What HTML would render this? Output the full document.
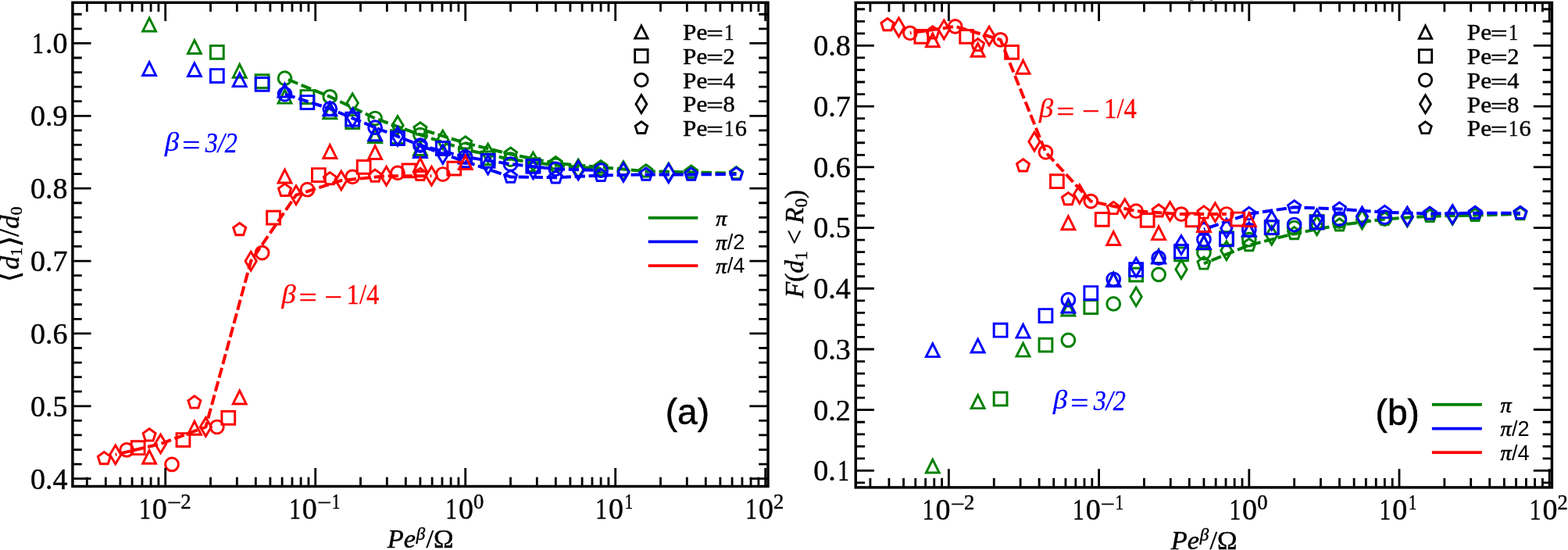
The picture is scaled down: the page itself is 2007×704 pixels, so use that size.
<!DOCTYPE html>
<html lang="en"><head><meta charset="utf-8"><title>Figure</title>
<style>html,body{margin:0;padding:0;background:#fff}svg{display:block}</style>
</head><body>
<svg width="2007" height="704" viewBox="0 0 2007 704">
<rect width="2007" height="704" fill="#fff"/>
<path d="M191.12 23.10 L182.72 39.90 L199.52 39.90 Z" fill="none" stroke="#008000" stroke-width="2.95" stroke-linejoin="miter"/>
<path d="M248.91 51.60 L240.51 68.40 L257.31 68.40 Z" fill="none" stroke="#008000" stroke-width="2.95" stroke-linejoin="miter"/>
<path d="M306.71 82.40 L298.31 99.20 L315.11 99.20 Z" fill="none" stroke="#008000" stroke-width="2.95" stroke-linejoin="miter"/>
<path d="M364.51 115.30 L356.11 132.10 L372.91 132.10 Z" fill="none" stroke="#008000" stroke-width="2.95" stroke-linejoin="miter"/>
<path d="M422.31 134.90 L413.91 151.70 L430.71 151.70 Z" fill="none" stroke="#008000" stroke-width="2.95" stroke-linejoin="miter"/>
<path d="M480.10 165.60 L471.70 182.40 L488.50 182.40 Z" fill="none" stroke="#008000" stroke-width="2.95" stroke-linejoin="miter"/>
<path d="M537.90 181.60 L529.50 198.40 L546.30 198.40 Z" fill="none" stroke="#008000" stroke-width="2.95" stroke-linejoin="miter"/>
<path d="M595.70 191.60 L587.30 208.40 L604.10 208.40 Z" fill="none" stroke="#008000" stroke-width="2.95" stroke-linejoin="miter"/>
<path d="M269.41 58.40 L286.21 58.40 L286.21 75.20 L269.41 75.20 Z" fill="none" stroke="#008000" stroke-width="2.95" stroke-linejoin="miter"/>
<path d="M327.21 95.70 L344.01 95.70 L344.01 112.50 L327.21 112.50 Z" fill="none" stroke="#008000" stroke-width="2.95" stroke-linejoin="miter"/>
<path d="M385.01 115.60 L401.81 115.60 L401.81 132.40 L385.01 132.40 Z" fill="none" stroke="#008000" stroke-width="2.95" stroke-linejoin="miter"/>
<path d="M442.81 147.60 L459.61 147.60 L459.61 164.40 L442.81 164.40 Z" fill="none" stroke="#008000" stroke-width="2.95" stroke-linejoin="miter"/>
<path d="M500.60 166.60 L517.40 166.60 L517.40 183.40 L500.60 183.40 Z" fill="none" stroke="#008000" stroke-width="2.95" stroke-linejoin="miter"/>
<path d="M558.40 181.60 L575.20 181.60 L575.20 198.40 L558.40 198.40 Z" fill="none" stroke="#008000" stroke-width="2.95" stroke-linejoin="miter"/>
<path d="M616.20 194.00 L633.00 194.00 L633.00 210.80 L616.20 210.80 Z" fill="none" stroke="#008000" stroke-width="2.95" stroke-linejoin="miter"/>
<path d="M674.00 202.60 L690.80 202.60 L690.80 219.40 L674.00 219.40 Z" fill="none" stroke="#008000" stroke-width="2.95" stroke-linejoin="miter"/>
<polyline points="364.51,100.15 422.31,123.80 480.10,151.50 537.90,172.50 595.70,191.50 653.50,204.00 711.30,211.50 769.09,216.00" fill="none" stroke="#008000" stroke-width="4.0" stroke-dasharray="13.3 4.7" stroke-dashoffset="13.20" stroke-linejoin="round"/>
<circle cx="364.51" cy="100.15" r="8.40" fill="none" stroke="#008000" stroke-width="2.95" stroke-linejoin="miter"/>
<circle cx="422.31" cy="123.80" r="8.40" fill="none" stroke="#008000" stroke-width="2.95" stroke-linejoin="miter"/>
<circle cx="480.10" cy="151.50" r="8.40" fill="none" stroke="#008000" stroke-width="2.95" stroke-linejoin="miter"/>
<circle cx="537.90" cy="172.50" r="8.40" fill="none" stroke="#008000" stroke-width="2.95" stroke-linejoin="miter"/>
<circle cx="595.70" cy="191.50" r="8.40" fill="none" stroke="#008000" stroke-width="2.95" stroke-linejoin="miter"/>
<circle cx="653.50" cy="204.00" r="8.40" fill="none" stroke="#008000" stroke-width="2.95" stroke-linejoin="miter"/>
<circle cx="711.30" cy="211.50" r="8.40" fill="none" stroke="#008000" stroke-width="2.95" stroke-linejoin="miter"/>
<circle cx="769.09" cy="216.00" r="8.40" fill="none" stroke="#008000" stroke-width="2.95" stroke-linejoin="miter"/>
<path d="M451.21 119.92 L458.33 131.80 L451.21 143.68 L444.08 131.80 Z" fill="none" stroke="#008000" stroke-width="2.95" stroke-linejoin="miter"/>
<path d="M509.00 148.72 L516.13 160.60 L509.00 172.48 L501.88 160.60 Z" fill="none" stroke="#008000" stroke-width="2.95" stroke-linejoin="miter"/>
<path d="M566.80 167.22 L573.93 179.10 L566.80 190.98 L559.67 179.10 Z" fill="none" stroke="#008000" stroke-width="2.95" stroke-linejoin="miter"/>
<path d="M624.60 184.22 L631.73 196.10 L624.60 207.98 L617.47 196.10 Z" fill="none" stroke="#008000" stroke-width="2.95" stroke-linejoin="miter"/>
<path d="M682.40 195.22 L689.52 207.10 L682.40 218.98 L675.27 207.10 Z" fill="none" stroke="#008000" stroke-width="2.95" stroke-linejoin="miter"/>
<path d="M740.19 204.22 L747.32 216.10 L740.19 227.98 L733.07 216.10 Z" fill="none" stroke="#008000" stroke-width="2.95" stroke-linejoin="miter"/>
<path d="M797.99 206.72 L805.12 218.60 L797.99 230.48 L790.86 218.60 Z" fill="none" stroke="#008000" stroke-width="2.95" stroke-linejoin="miter"/>
<path d="M855.79 209.12 L862.92 221.00 L855.79 232.88 L848.66 221.00 Z" fill="none" stroke="#008000" stroke-width="2.95" stroke-linejoin="miter"/>
<polyline points="537.90,165.10 595.70,183.10 653.50,197.40 711.30,209.00 769.09,214.00 826.89,219.20 884.69,220.40 942.49,222.00" fill="none" stroke="#008000" stroke-width="4.0" stroke-dasharray="13.3 4.7" stroke-dashoffset="12.26" stroke-linejoin="round"/>
<path d="M537.90 156.70 L545.89 162.50 L542.84 171.90 L532.96 171.90 L529.91 162.50 Z" fill="none" stroke="#008000" stroke-width="2.95" stroke-linejoin="miter"/>
<path d="M595.70 174.70 L603.69 180.50 L600.64 189.90 L590.76 189.90 L587.71 180.50 Z" fill="none" stroke="#008000" stroke-width="2.95" stroke-linejoin="miter"/>
<path d="M653.50 189.00 L661.49 194.80 L658.44 204.20 L648.56 204.20 L645.51 194.80 Z" fill="none" stroke="#008000" stroke-width="2.95" stroke-linejoin="miter"/>
<path d="M711.30 200.60 L719.28 206.40 L716.23 215.80 L706.36 215.80 L703.31 206.40 Z" fill="none" stroke="#008000" stroke-width="2.95" stroke-linejoin="miter"/>
<path d="M769.09 205.60 L777.08 211.40 L774.03 220.80 L764.16 220.80 L761.10 211.40 Z" fill="none" stroke="#008000" stroke-width="2.95" stroke-linejoin="miter"/>
<path d="M826.89 210.80 L834.88 216.60 L831.83 226.00 L821.95 226.00 L818.90 216.60 Z" fill="none" stroke="#008000" stroke-width="2.95" stroke-linejoin="miter"/>
<path d="M884.69 212.00 L892.68 217.80 L889.63 227.20 L879.75 227.20 L876.70 217.80 Z" fill="none" stroke="#008000" stroke-width="2.95" stroke-linejoin="miter"/>
<path d="M942.49 213.60 L950.48 219.40 L947.42 228.80 L937.55 228.80 L934.50 219.40 Z" fill="none" stroke="#008000" stroke-width="2.95" stroke-linejoin="miter"/>
<path d="M191.12 79.60 L182.72 96.40 L199.52 96.40 Z" fill="none" stroke="#0000ff" stroke-width="2.95" stroke-linejoin="miter"/>
<path d="M248.91 80.70 L240.51 97.50 L257.31 97.50 Z" fill="none" stroke="#0000ff" stroke-width="2.95" stroke-linejoin="miter"/>
<path d="M306.71 93.80 L298.31 110.60 L315.11 110.60 Z" fill="none" stroke="#0000ff" stroke-width="2.95" stroke-linejoin="miter"/>
<path d="M364.51 107.30 L356.11 124.10 L372.91 124.10 Z" fill="none" stroke="#0000ff" stroke-width="2.95" stroke-linejoin="miter"/>
<path d="M422.31 131.00 L413.91 147.80 L430.71 147.80 Z" fill="none" stroke="#0000ff" stroke-width="2.95" stroke-linejoin="miter"/>
<path d="M480.10 162.90 L471.70 179.70 L488.50 179.70 Z" fill="none" stroke="#0000ff" stroke-width="2.95" stroke-linejoin="miter"/>
<path d="M537.90 184.60 L529.50 201.40 L546.30 201.40 Z" fill="none" stroke="#0000ff" stroke-width="2.95" stroke-linejoin="miter"/>
<path d="M595.70 192.10 L587.30 208.90 L604.10 208.90 Z" fill="none" stroke="#0000ff" stroke-width="2.95" stroke-linejoin="miter"/>
<path d="M269.41 88.60 L286.21 88.60 L286.21 105.40 L269.41 105.40 Z" fill="none" stroke="#0000ff" stroke-width="2.95" stroke-linejoin="miter"/>
<path d="M327.21 99.40 L344.01 99.40 L344.01 116.20 L327.21 116.20 Z" fill="none" stroke="#0000ff" stroke-width="2.95" stroke-linejoin="miter"/>
<path d="M385.01 122.60 L401.81 122.60 L401.81 139.40 L385.01 139.40 Z" fill="none" stroke="#0000ff" stroke-width="2.95" stroke-linejoin="miter"/>
<path d="M442.81 144.20 L459.61 144.20 L459.61 161.00 L442.81 161.00 Z" fill="none" stroke="#0000ff" stroke-width="2.95" stroke-linejoin="miter"/>
<path d="M500.60 168.80 L517.40 168.80 L517.40 185.60 L500.60 185.60 Z" fill="none" stroke="#0000ff" stroke-width="2.95" stroke-linejoin="miter"/>
<path d="M558.40 181.40 L575.20 181.40 L575.20 198.20 L558.40 198.20 Z" fill="none" stroke="#0000ff" stroke-width="2.95" stroke-linejoin="miter"/>
<path d="M616.20 197.40 L633.00 197.40 L633.00 214.20 L616.20 214.20 Z" fill="none" stroke="#0000ff" stroke-width="2.95" stroke-linejoin="miter"/>
<path d="M674.00 204.40 L690.80 204.40 L690.80 221.20 L674.00 221.20 Z" fill="none" stroke="#0000ff" stroke-width="2.95" stroke-linejoin="miter"/>
<polyline points="364.51,120.50 422.31,139.20 480.10,163.20 537.90,186.00 595.70,201.00 653.50,210.00 711.30,216.30 769.09,218.20" fill="none" stroke="#0000ff" stroke-width="4.0" stroke-dasharray="13.3 4.7" stroke-dashoffset="17.70" stroke-linejoin="round"/>
<circle cx="364.51" cy="120.50" r="8.40" fill="none" stroke="#0000ff" stroke-width="2.95" stroke-linejoin="miter"/>
<circle cx="422.31" cy="139.20" r="8.40" fill="none" stroke="#0000ff" stroke-width="2.95" stroke-linejoin="miter"/>
<circle cx="480.10" cy="163.20" r="8.40" fill="none" stroke="#0000ff" stroke-width="2.95" stroke-linejoin="miter"/>
<circle cx="537.90" cy="186.00" r="8.40" fill="none" stroke="#0000ff" stroke-width="2.95" stroke-linejoin="miter"/>
<circle cx="595.70" cy="201.00" r="8.40" fill="none" stroke="#0000ff" stroke-width="2.95" stroke-linejoin="miter"/>
<circle cx="653.50" cy="210.00" r="8.40" fill="none" stroke="#0000ff" stroke-width="2.95" stroke-linejoin="miter"/>
<circle cx="711.30" cy="216.30" r="8.40" fill="none" stroke="#0000ff" stroke-width="2.95" stroke-linejoin="miter"/>
<circle cx="769.09" cy="218.20" r="8.40" fill="none" stroke="#0000ff" stroke-width="2.95" stroke-linejoin="miter"/>
<path d="M451.21 138.82 L458.33 150.70 L451.21 162.58 L444.08 150.70 Z" fill="none" stroke="#0000ff" stroke-width="2.95" stroke-linejoin="miter"/>
<path d="M509.00 162.72 L516.13 174.60 L509.00 186.48 L501.88 174.60 Z" fill="none" stroke="#0000ff" stroke-width="2.95" stroke-linejoin="miter"/>
<path d="M566.80 185.62 L573.93 197.50 L566.80 209.38 L559.67 197.50 Z" fill="none" stroke="#0000ff" stroke-width="2.95" stroke-linejoin="miter"/>
<path d="M624.60 199.22 L631.73 211.10 L624.60 222.98 L617.47 211.10 Z" fill="none" stroke="#0000ff" stroke-width="2.95" stroke-linejoin="miter"/>
<path d="M682.40 204.82 L689.52 216.70 L682.40 228.58 L675.27 216.70 Z" fill="none" stroke="#0000ff" stroke-width="2.95" stroke-linejoin="miter"/>
<path d="M740.19 206.22 L747.32 218.10 L740.19 229.98 L733.07 218.10 Z" fill="none" stroke="#0000ff" stroke-width="2.95" stroke-linejoin="miter"/>
<path d="M797.99 208.72 L805.12 220.60 L797.99 232.48 L790.86 220.60 Z" fill="none" stroke="#0000ff" stroke-width="2.95" stroke-linejoin="miter"/>
<path d="M855.79 209.82 L862.92 221.70 L855.79 233.58 L848.66 221.70 Z" fill="none" stroke="#0000ff" stroke-width="2.95" stroke-linejoin="miter"/>
<polyline points="537.90,186.50 595.70,207.00 653.50,226.40 711.30,227.20 769.09,224.60 826.89,223.40 884.69,223.40 942.49,223.00" fill="none" stroke="#0000ff" stroke-width="4.0" stroke-dasharray="13.3 4.7" stroke-dashoffset="11.60" stroke-linejoin="round"/>
<path d="M537.90 178.10 L545.89 183.90 L542.84 193.30 L532.96 193.30 L529.91 183.90 Z" fill="none" stroke="#0000ff" stroke-width="2.95" stroke-linejoin="miter"/>
<path d="M595.70 198.60 L603.69 204.40 L600.64 213.80 L590.76 213.80 L587.71 204.40 Z" fill="none" stroke="#0000ff" stroke-width="2.95" stroke-linejoin="miter"/>
<path d="M653.50 218.00 L661.49 223.80 L658.44 233.20 L648.56 233.20 L645.51 223.80 Z" fill="none" stroke="#0000ff" stroke-width="2.95" stroke-linejoin="miter"/>
<path d="M711.30 218.80 L719.28 224.60 L716.23 234.00 L706.36 234.00 L703.31 224.60 Z" fill="none" stroke="#0000ff" stroke-width="2.95" stroke-linejoin="miter"/>
<path d="M769.09 216.20 L777.08 222.00 L774.03 231.40 L764.16 231.40 L761.10 222.00 Z" fill="none" stroke="#0000ff" stroke-width="2.95" stroke-linejoin="miter"/>
<path d="M826.89 215.00 L834.88 220.80 L831.83 230.20 L821.95 230.20 L818.90 220.80 Z" fill="none" stroke="#0000ff" stroke-width="2.95" stroke-linejoin="miter"/>
<path d="M884.69 215.00 L892.68 220.80 L889.63 230.20 L879.75 230.20 L876.70 220.80 Z" fill="none" stroke="#0000ff" stroke-width="2.95" stroke-linejoin="miter"/>
<path d="M942.49 214.60 L950.48 220.40 L947.42 229.80 L937.55 229.80 L934.50 220.40 Z" fill="none" stroke="#0000ff" stroke-width="2.95" stroke-linejoin="miter"/>
<path d="M191.12 576.50 L182.72 593.30 L199.52 593.30 Z" fill="none" stroke="#ff0000" stroke-width="2.95" stroke-linejoin="miter"/>
<path d="M248.91 539.40 L240.51 556.20 L257.31 556.20 Z" fill="none" stroke="#ff0000" stroke-width="2.95" stroke-linejoin="miter"/>
<path d="M306.71 500.10 L298.31 516.90 L315.11 516.90 Z" fill="none" stroke="#ff0000" stroke-width="2.95" stroke-linejoin="miter"/>
<path d="M364.51 217.20 L356.11 234.00 L372.91 234.00 Z" fill="none" stroke="#ff0000" stroke-width="2.95" stroke-linejoin="miter"/>
<path d="M422.31 185.60 L413.91 202.40 L430.71 202.40 Z" fill="none" stroke="#ff0000" stroke-width="2.95" stroke-linejoin="miter"/>
<path d="M480.10 186.60 L471.70 203.40 L488.50 203.40 Z" fill="none" stroke="#ff0000" stroke-width="2.95" stroke-linejoin="miter"/>
<path d="M537.90 202.60 L529.50 219.40 L546.30 219.40 Z" fill="none" stroke="#ff0000" stroke-width="2.95" stroke-linejoin="miter"/>
<path d="M595.70 199.60 L587.30 216.40 L604.10 216.40 Z" fill="none" stroke="#ff0000" stroke-width="2.95" stroke-linejoin="miter"/>
<path d="M168.27 564.80 L185.07 564.80 L185.07 581.60 L168.27 581.60 Z" fill="none" stroke="#ff0000" stroke-width="2.95" stroke-linejoin="miter"/>
<path d="M226.06 554.60 L242.86 554.60 L242.86 571.40 L226.06 571.40 Z" fill="none" stroke="#ff0000" stroke-width="2.95" stroke-linejoin="miter"/>
<path d="M283.86 526.50 L300.66 526.50 L300.66 543.30 L283.86 543.30 Z" fill="none" stroke="#ff0000" stroke-width="2.95" stroke-linejoin="miter"/>
<path d="M341.66 270.20 L358.46 270.20 L358.46 287.00 L341.66 287.00 Z" fill="none" stroke="#ff0000" stroke-width="2.95" stroke-linejoin="miter"/>
<path d="M399.46 215.60 L416.26 215.60 L416.26 232.40 L399.46 232.40 Z" fill="none" stroke="#ff0000" stroke-width="2.95" stroke-linejoin="miter"/>
<path d="M457.26 205.40 L474.06 205.40 L474.06 222.20 L457.26 222.20 Z" fill="none" stroke="#ff0000" stroke-width="2.95" stroke-linejoin="miter"/>
<path d="M515.05 209.90 L531.85 209.90 L531.85 226.70 L515.05 226.70 Z" fill="none" stroke="#ff0000" stroke-width="2.95" stroke-linejoin="miter"/>
<path d="M572.85 207.20 L589.65 207.20 L589.65 224.00 L572.85 224.00 Z" fill="none" stroke="#ff0000" stroke-width="2.95" stroke-linejoin="miter"/>
<circle cx="162.22" cy="575.90" r="8.40" fill="none" stroke="#ff0000" stroke-width="2.95" stroke-linejoin="miter"/>
<circle cx="220.01" cy="594.40" r="8.40" fill="none" stroke="#ff0000" stroke-width="2.95" stroke-linejoin="miter"/>
<circle cx="277.81" cy="546.50" r="8.40" fill="none" stroke="#ff0000" stroke-width="2.95" stroke-linejoin="miter"/>
<circle cx="335.61" cy="323.60" r="8.40" fill="none" stroke="#ff0000" stroke-width="2.95" stroke-linejoin="miter"/>
<circle cx="393.41" cy="242.70" r="8.40" fill="none" stroke="#ff0000" stroke-width="2.95" stroke-linejoin="miter"/>
<circle cx="451.21" cy="226.30" r="8.40" fill="none" stroke="#ff0000" stroke-width="2.95" stroke-linejoin="miter"/>
<circle cx="509.00" cy="221.30" r="8.40" fill="none" stroke="#ff0000" stroke-width="2.95" stroke-linejoin="miter"/>
<circle cx="566.80" cy="223.00" r="8.40" fill="none" stroke="#ff0000" stroke-width="2.95" stroke-linejoin="miter"/>
<polyline points="147.77,581.90 205.57,568.10 263.36,546.50 321.16,334.20 378.96,249.70 436.76,231.00 494.55,225.30 552.35,225.20" fill="none" stroke="#ff0000" stroke-width="4.0" stroke-dasharray="13.3 4.7" stroke-dashoffset="11.60" stroke-linejoin="round"/>
<path d="M147.77 570.02 L154.90 581.90 L147.77 593.78 L140.64 581.90 Z" fill="none" stroke="#ff0000" stroke-width="2.95" stroke-linejoin="miter"/>
<path d="M205.57 556.22 L212.69 568.10 L205.57 579.98 L198.44 568.10 Z" fill="none" stroke="#ff0000" stroke-width="2.95" stroke-linejoin="miter"/>
<path d="M263.36 534.62 L270.49 546.50 L263.36 558.38 L256.24 546.50 Z" fill="none" stroke="#ff0000" stroke-width="2.95" stroke-linejoin="miter"/>
<path d="M321.16 322.32 L328.29 334.20 L321.16 346.08 L314.03 334.20 Z" fill="none" stroke="#ff0000" stroke-width="2.95" stroke-linejoin="miter"/>
<path d="M378.96 237.82 L386.09 249.70 L378.96 261.58 L371.83 249.70 Z" fill="none" stroke="#ff0000" stroke-width="2.95" stroke-linejoin="miter"/>
<path d="M436.76 219.12 L443.88 231.00 L436.76 242.88 L429.63 231.00 Z" fill="none" stroke="#ff0000" stroke-width="2.95" stroke-linejoin="miter"/>
<path d="M494.55 213.42 L501.68 225.30 L494.55 237.18 L487.43 225.30 Z" fill="none" stroke="#ff0000" stroke-width="2.95" stroke-linejoin="miter"/>
<path d="M552.35 213.32 L559.48 225.20 L552.35 237.08 L545.22 225.20 Z" fill="none" stroke="#ff0000" stroke-width="2.95" stroke-linejoin="miter"/>
<path d="M133.32 578.60 L141.31 584.40 L138.26 593.80 L128.38 593.80 L125.33 584.40 Z" fill="none" stroke="#ff0000" stroke-width="2.95" stroke-linejoin="miter"/>
<path d="M191.12 548.70 L199.10 554.50 L196.05 563.90 L186.18 563.90 L183.13 554.50 Z" fill="none" stroke="#ff0000" stroke-width="2.95" stroke-linejoin="miter"/>
<path d="M248.91 506.90 L256.90 512.70 L253.85 522.10 L243.98 522.10 L240.92 512.70 Z" fill="none" stroke="#ff0000" stroke-width="2.95" stroke-linejoin="miter"/>
<path d="M306.71 285.50 L314.70 291.30 L311.65 300.70 L301.77 300.70 L298.72 291.30 Z" fill="none" stroke="#ff0000" stroke-width="2.95" stroke-linejoin="miter"/>
<path d="M364.51 235.30 L372.50 241.10 L369.45 250.50 L359.57 250.50 L356.52 241.10 Z" fill="none" stroke="#ff0000" stroke-width="2.95" stroke-linejoin="miter"/>
<path d="M422.31 220.60 L430.30 226.40 L427.24 235.80 L417.37 235.80 L414.32 226.40 Z" fill="none" stroke="#ff0000" stroke-width="2.95" stroke-linejoin="miter"/>
<path d="M480.10 217.10 L488.09 222.90 L485.04 232.30 L475.17 232.30 L472.12 222.90 Z" fill="none" stroke="#ff0000" stroke-width="2.95" stroke-linejoin="miter"/>
<path d="M537.90 215.30 L545.89 221.10 L542.84 230.50 L532.96 230.50 L529.91 221.10 Z" fill="none" stroke="#ff0000" stroke-width="2.95" stroke-linejoin="miter"/>
<path d="M111.31 622.55v-11.80M111.31 3.30v11.80M135.30 622.55v-11.80M135.30 3.30v11.80M153.90 622.55v-11.80M153.90 3.30v11.80M169.11 622.55v-11.80M169.11 3.30v11.80M181.96 622.55v-11.80M181.96 3.30v11.80M193.09 622.55v-11.80M193.09 3.30v11.80M202.91 622.55v-11.80M202.91 3.30v11.80M211.70 622.55v-23.60M211.70 3.30v23.60M269.50 622.55v-11.80M269.50 3.30v11.80M303.31 622.55v-11.80M303.31 3.30v11.80M327.30 622.55v-11.80M327.30 3.30v11.80M345.90 622.55v-11.80M345.90 3.30v11.80M361.11 622.55v-11.80M361.11 3.30v11.80M373.96 622.55v-11.80M373.96 3.30v11.80M385.09 622.55v-11.80M385.09 3.30v11.80M394.91 622.55v-11.80M394.91 3.30v11.80M403.70 622.55v-23.60M403.70 3.30v23.60M461.50 622.55v-11.80M461.50 3.30v11.80M495.31 622.55v-11.80M495.31 3.30v11.80M519.30 622.55v-11.80M519.30 3.30v11.80M537.90 622.55v-11.80M537.90 3.30v11.80M553.11 622.55v-11.80M553.11 3.30v11.80M565.96 622.55v-11.80M565.96 3.30v11.80M577.09 622.55v-11.80M577.09 3.30v11.80M586.91 622.55v-11.80M586.91 3.30v11.80M595.70 622.55v-23.60M595.70 3.30v23.60M653.50 622.55v-11.80M653.50 3.30v11.80M687.31 622.55v-11.80M687.31 3.30v11.80M711.30 622.55v-11.80M711.30 3.30v11.80M729.90 622.55v-11.80M729.90 3.30v11.80M745.11 622.55v-11.80M745.11 3.30v11.80M757.96 622.55v-11.80M757.96 3.30v11.80M769.09 622.55v-11.80M769.09 3.30v11.80M778.91 622.55v-11.80M778.91 3.30v11.80M787.70 622.55v-23.60M787.70 3.30v23.60M845.50 622.55v-11.80M845.50 3.30v11.80M879.31 622.55v-11.80M879.31 3.30v11.80M903.30 622.55v-11.80M903.30 3.30v11.80M921.90 622.55v-11.80M921.90 3.30v11.80M937.11 622.55v-11.80M937.11 3.30v11.80M949.96 622.55v-11.80M949.96 3.30v11.80M961.09 622.55v-11.80M961.09 3.30v11.80M970.91 622.55v-11.80M970.91 3.30v11.80M979.70 622.55v-23.60M979.70 3.30v23.60M92.93 612.68h23.60M983.00 612.68h-23.60M92.93 594.10h11.80M983.00 594.10h-11.80M92.93 575.53h11.80M983.00 575.53h-11.80M92.93 556.95h11.80M983.00 556.95h-11.80M92.93 538.38h11.80M983.00 538.38h-11.80M92.93 519.80h23.60M983.00 519.80h-23.60M92.93 501.22h11.80M983.00 501.22h-11.80M92.93 482.65h11.80M983.00 482.65h-11.80M92.93 464.07h11.80M983.00 464.07h-11.80M92.93 445.50h11.80M983.00 445.50h-11.80M92.93 426.92h23.60M983.00 426.92h-23.60M92.93 408.34h11.80M983.00 408.34h-11.80M92.93 389.77h11.80M983.00 389.77h-11.80M92.93 371.19h11.80M983.00 371.19h-11.80M92.93 352.62h11.80M983.00 352.62h-11.80M92.93 334.04h23.60M983.00 334.04h-23.60M92.93 315.46h11.80M983.00 315.46h-11.80M92.93 296.89h11.80M983.00 296.89h-11.80M92.93 278.31h11.80M983.00 278.31h-11.80M92.93 259.74h11.80M983.00 259.74h-11.80M92.93 241.16h23.60M983.00 241.16h-23.60M92.93 222.58h11.80M983.00 222.58h-11.80M92.93 204.01h11.80M983.00 204.01h-11.80M92.93 185.43h11.80M983.00 185.43h-11.80M92.93 166.86h11.80M983.00 166.86h-11.80M92.93 148.28h23.60M983.00 148.28h-23.60M92.93 129.70h11.80M983.00 129.70h-11.80M92.93 111.13h11.80M983.00 111.13h-11.80M92.93 92.55h11.80M983.00 92.55h-11.80M92.93 73.98h11.80M983.00 73.98h-11.80M92.93 55.40h23.60M983.00 55.40h-23.60M92.93 36.82h11.80M983.00 36.82h-11.80M92.93 18.25h11.80M983.00 18.25h-11.80" stroke="#000" stroke-width="2.8" fill="none"/>
<rect x="92.93" y="3.30" width="890.07" height="619.25" fill="none" stroke="#000" stroke-width="3.45" stroke-linejoin="miter"/>
<text x="39.03" y="625.58" fill="#000" stroke="#000" stroke-width="0"><tspan font-family='"Liberation Serif", "DejaVu Serif", serif' font-size="38.0" stroke-width="0.45">0</tspan><tspan font-family='"Liberation Serif", "DejaVu Serif", serif' font-size="38.0" stroke-width="0.45">.</tspan><tspan font-family='"Liberation Serif", "DejaVu Serif", serif' font-size="38.0" stroke-width="0.45">4</tspan></text>
<text x="39.03" y="532.70" fill="#000" stroke="#000" stroke-width="0"><tspan font-family='"Liberation Serif", "DejaVu Serif", serif' font-size="38.0" stroke-width="0.45">0</tspan><tspan font-family='"Liberation Serif", "DejaVu Serif", serif' font-size="38.0" stroke-width="0.45">.</tspan><tspan font-family='"Liberation Serif", "DejaVu Serif", serif' font-size="38.0" stroke-width="0.45">5</tspan></text>
<text x="39.03" y="439.82" fill="#000" stroke="#000" stroke-width="0"><tspan font-family='"Liberation Serif", "DejaVu Serif", serif' font-size="38.0" stroke-width="0.45">0</tspan><tspan font-family='"Liberation Serif", "DejaVu Serif", serif' font-size="38.0" stroke-width="0.45">.</tspan><tspan font-family='"Liberation Serif", "DejaVu Serif", serif' font-size="38.0" stroke-width="0.45">6</tspan></text>
<text x="39.03" y="346.94" fill="#000" stroke="#000" stroke-width="0"><tspan font-family='"Liberation Serif", "DejaVu Serif", serif' font-size="38.0" stroke-width="0.45">0</tspan><tspan font-family='"Liberation Serif", "DejaVu Serif", serif' font-size="38.0" stroke-width="0.45">.</tspan><tspan font-family='"Liberation Serif", "DejaVu Serif", serif' font-size="38.0" stroke-width="0.45">7</tspan></text>
<text x="39.03" y="254.06" fill="#000" stroke="#000" stroke-width="0"><tspan font-family='"Liberation Serif", "DejaVu Serif", serif' font-size="38.0" stroke-width="0.45">0</tspan><tspan font-family='"Liberation Serif", "DejaVu Serif", serif' font-size="38.0" stroke-width="0.45">.</tspan><tspan font-family='"Liberation Serif", "DejaVu Serif", serif' font-size="38.0" stroke-width="0.45">8</tspan></text>
<text x="39.03" y="161.18" fill="#000" stroke="#000" stroke-width="0"><tspan font-family='"Liberation Serif", "DejaVu Serif", serif' font-size="38.0" stroke-width="0.45">0</tspan><tspan font-family='"Liberation Serif", "DejaVu Serif", serif' font-size="38.0" stroke-width="0.45">.</tspan><tspan font-family='"Liberation Serif", "DejaVu Serif", serif' font-size="38.0" stroke-width="0.45">9</tspan></text>
<text x="41.34" y="68.30" fill="#000" stroke="#000" stroke-width="0"><tspan font-family='"Liberation Serif", "DejaVu Serif", serif' font-size="38.0" stroke-width="0.45" textLength="14.63" lengthAdjust="spacingAndGlyphs">1</tspan><tspan dx="2.06" font-family='"Liberation Serif", "DejaVu Serif", serif' font-size="38.0" stroke-width="0.45">.</tspan><tspan font-family='"Liberation Serif", "DejaVu Serif", serif' font-size="38.0" stroke-width="0.45">0</tspan></text>
<text x="178.16" y="663.70" fill="#000" stroke="#000" stroke-width="0"><tspan font-family='"Liberation Serif", "DejaVu Serif", serif' font-size="38.0" stroke-width="0.45" textLength="14.63" lengthAdjust="spacingAndGlyphs">1</tspan><tspan dx="2.06" font-family='"Liberation Serif", "DejaVu Serif", serif' font-size="38.0" stroke-width="0.45">0</tspan><tspan dx="-0.14" dy="-11.27" font-family='"Liberation Serif", "DejaVu Serif", serif' font-size="26.6" stroke-width="0.35" textLength="18.15" lengthAdjust="spacingAndGlyphs">−</tspan><tspan dx="-0.56" dy="-1.83" font-family='"Liberation Serif", "DejaVu Serif", serif' font-size="26.6" stroke-width="0.45">2</tspan></text>
<text x="370.16" y="663.70" fill="#000" stroke="#000" stroke-width="0"><tspan font-family='"Liberation Serif", "DejaVu Serif", serif' font-size="38.0" stroke-width="0.45" textLength="14.63" lengthAdjust="spacingAndGlyphs">1</tspan><tspan dx="2.06" font-family='"Liberation Serif", "DejaVu Serif", serif' font-size="38.0" stroke-width="0.45">0</tspan><tspan dx="-0.14" dy="-11.27" font-family='"Liberation Serif", "DejaVu Serif", serif' font-size="26.6" stroke-width="0.35" textLength="18.15" lengthAdjust="spacingAndGlyphs">−</tspan><tspan dx="1.05" dy="-1.83" font-family='"Liberation Serif", "DejaVu Serif", serif' font-size="26.6" stroke-width="0.45" textLength="10.24" lengthAdjust="spacingAndGlyphs">1</tspan></text>
<text x="570.31" y="663.70" fill="#000" stroke="#000" stroke-width="0"><tspan font-family='"Liberation Serif", "DejaVu Serif", serif' font-size="38.0" stroke-width="0.45" textLength="14.63" lengthAdjust="spacingAndGlyphs">1</tspan><tspan dx="2.06" font-family='"Liberation Serif", "DejaVu Serif", serif' font-size="38.0" stroke-width="0.45">0</tspan><tspan dx="0.10" dy="-13.10" font-family='"Liberation Serif", "DejaVu Serif", serif' font-size="26.6" stroke-width="0.45">0</tspan></text>
<text x="762.31" y="663.70" fill="#000" stroke="#000" stroke-width="0"><tspan font-family='"Liberation Serif", "DejaVu Serif", serif' font-size="38.0" stroke-width="0.45" textLength="14.63" lengthAdjust="spacingAndGlyphs">1</tspan><tspan dx="2.06" font-family='"Liberation Serif", "DejaVu Serif", serif' font-size="38.0" stroke-width="0.45">0</tspan><tspan dx="1.71" dy="-13.10" font-family='"Liberation Serif", "DejaVu Serif", serif' font-size="26.6" stroke-width="0.45" textLength="10.24" lengthAdjust="spacingAndGlyphs">1</tspan></text>
<text x="954.31" y="663.70" fill="#000" stroke="#000" stroke-width="0"><tspan font-family='"Liberation Serif", "DejaVu Serif", serif' font-size="38.0" stroke-width="0.45" textLength="14.63" lengthAdjust="spacingAndGlyphs">1</tspan><tspan dx="2.06" font-family='"Liberation Serif", "DejaVu Serif", serif' font-size="38.0" stroke-width="0.45">0</tspan><tspan dx="0.10" dy="-13.10" font-family='"Liberation Serif", "DejaVu Serif", serif' font-size="26.6" stroke-width="0.45">2</tspan></text>
<path d="M1193.79 588.20 L1185.39 605.00 L1202.19 605.00 Z" fill="none" stroke="#008000" stroke-width="2.95" stroke-linejoin="miter"/>
<path d="M1251.65 505.80 L1243.25 522.60 L1260.05 522.60 Z" fill="none" stroke="#008000" stroke-width="2.95" stroke-linejoin="miter"/>
<path d="M1309.51 439.30 L1301.11 456.10 L1317.91 456.10 Z" fill="none" stroke="#008000" stroke-width="2.95" stroke-linejoin="miter"/>
<path d="M1367.37 387.10 L1358.97 403.90 L1375.77 403.90 Z" fill="none" stroke="#008000" stroke-width="2.95" stroke-linejoin="miter"/>
<path d="M1425.23 349.10 L1416.83 365.90 L1433.63 365.90 Z" fill="none" stroke="#008000" stroke-width="2.95" stroke-linejoin="miter"/>
<path d="M1483.08 319.60 L1474.68 336.40 L1491.48 336.40 Z" fill="none" stroke="#008000" stroke-width="2.95" stroke-linejoin="miter"/>
<path d="M1540.94 302.20 L1532.54 319.00 L1549.34 319.00 Z" fill="none" stroke="#008000" stroke-width="2.95" stroke-linejoin="miter"/>
<path d="M1598.80 285.80 L1590.40 302.60 L1607.20 302.60 Z" fill="none" stroke="#008000" stroke-width="2.95" stroke-linejoin="miter"/>
<path d="M1272.18 502.20 L1288.98 502.20 L1288.98 519.00 L1272.18 519.00 Z" fill="none" stroke="#008000" stroke-width="2.95" stroke-linejoin="miter"/>
<path d="M1330.04 433.20 L1346.84 433.20 L1346.84 450.00 L1330.04 450.00 Z" fill="none" stroke="#008000" stroke-width="2.95" stroke-linejoin="miter"/>
<path d="M1387.90 384.60 L1404.70 384.60 L1404.70 401.40 L1387.90 401.40 Z" fill="none" stroke="#008000" stroke-width="2.95" stroke-linejoin="miter"/>
<path d="M1445.76 343.20 L1462.56 343.20 L1462.56 360.00 L1445.76 360.00 Z" fill="none" stroke="#008000" stroke-width="2.95" stroke-linejoin="miter"/>
<path d="M1503.61 317.00 L1520.41 317.00 L1520.41 333.80 L1503.61 333.80 Z" fill="none" stroke="#008000" stroke-width="2.95" stroke-linejoin="miter"/>
<path d="M1561.47 296.70 L1578.27 296.70 L1578.27 313.50 L1561.47 313.50 Z" fill="none" stroke="#008000" stroke-width="2.95" stroke-linejoin="miter"/>
<path d="M1619.33 283.00 L1636.13 283.00 L1636.13 299.80 L1619.33 299.80 Z" fill="none" stroke="#008000" stroke-width="2.95" stroke-linejoin="miter"/>
<path d="M1677.19 275.50 L1693.99 275.50 L1693.99 292.30 L1677.19 292.30 Z" fill="none" stroke="#008000" stroke-width="2.95" stroke-linejoin="miter"/>
<circle cx="1367.37" cy="435.40" r="8.40" fill="none" stroke="#008000" stroke-width="2.95" stroke-linejoin="miter"/>
<circle cx="1425.23" cy="388.90" r="8.40" fill="none" stroke="#008000" stroke-width="2.95" stroke-linejoin="miter"/>
<circle cx="1483.08" cy="351.40" r="8.40" fill="none" stroke="#008000" stroke-width="2.95" stroke-linejoin="miter"/>
<circle cx="1540.94" cy="323.60" r="8.40" fill="none" stroke="#008000" stroke-width="2.95" stroke-linejoin="miter"/>
<circle cx="1598.80" cy="306.60" r="8.40" fill="none" stroke="#008000" stroke-width="2.95" stroke-linejoin="miter"/>
<circle cx="1656.66" cy="291.70" r="8.40" fill="none" stroke="#008000" stroke-width="2.95" stroke-linejoin="miter"/>
<circle cx="1714.52" cy="283.00" r="8.40" fill="none" stroke="#008000" stroke-width="2.95" stroke-linejoin="miter"/>
<circle cx="1772.37" cy="280.00" r="8.40" fill="none" stroke="#008000" stroke-width="2.95" stroke-linejoin="miter"/>
<path d="M1454.16 367.92 L1461.28 379.80 L1454.16 391.68 L1447.03 379.80 Z" fill="none" stroke="#008000" stroke-width="2.95" stroke-linejoin="miter"/>
<path d="M1512.01 332.82 L1519.14 344.70 L1512.01 356.58 L1504.89 344.70 Z" fill="none" stroke="#008000" stroke-width="2.95" stroke-linejoin="miter"/>
<path d="M1569.87 308.82 L1577.00 320.70 L1569.87 332.58 L1562.74 320.70 Z" fill="none" stroke="#008000" stroke-width="2.95" stroke-linejoin="miter"/>
<path d="M1627.73 289.32 L1634.86 301.20 L1627.73 313.08 L1620.60 301.20 Z" fill="none" stroke="#008000" stroke-width="2.95" stroke-linejoin="miter"/>
<path d="M1685.59 276.82 L1692.71 288.70 L1685.59 300.58 L1678.46 288.70 Z" fill="none" stroke="#008000" stroke-width="2.95" stroke-linejoin="miter"/>
<path d="M1743.44 269.02 L1750.57 280.90 L1743.44 292.78 L1736.32 280.90 Z" fill="none" stroke="#008000" stroke-width="2.95" stroke-linejoin="miter"/>
<path d="M1801.30 266.12 L1808.43 278.00 L1801.30 289.88 L1794.18 278.00 Z" fill="none" stroke="#008000" stroke-width="2.95" stroke-linejoin="miter"/>
<path d="M1859.16 263.62 L1866.29 275.50 L1859.16 287.38 L1852.03 275.50 Z" fill="none" stroke="#008000" stroke-width="2.95" stroke-linejoin="miter"/>
<polyline points="1540.94,337.30 1598.80,313.90 1656.66,299.00 1714.52,288.10 1772.37,280.50 1830.23,276.70 1888.09,275.60 1945.95,274.00" fill="none" stroke="#008000" stroke-width="4.0" stroke-dasharray="13.3 4.7" stroke-dashoffset="7.59" stroke-linejoin="round"/>
<path d="M1540.94 328.90 L1548.93 334.70 L1545.88 344.10 L1536.00 344.10 L1532.95 334.70 Z" fill="none" stroke="#008000" stroke-width="2.95" stroke-linejoin="miter"/>
<path d="M1598.80 305.50 L1606.79 311.30 L1603.74 320.70 L1593.86 320.70 L1590.81 311.30 Z" fill="none" stroke="#008000" stroke-width="2.95" stroke-linejoin="miter"/>
<path d="M1656.66 290.60 L1664.65 296.40 L1661.60 305.80 L1651.72 305.80 L1648.67 296.40 Z" fill="none" stroke="#008000" stroke-width="2.95" stroke-linejoin="miter"/>
<path d="M1714.52 279.70 L1722.50 285.50 L1719.45 294.90 L1709.58 294.90 L1706.53 285.50 Z" fill="none" stroke="#008000" stroke-width="2.95" stroke-linejoin="miter"/>
<path d="M1772.37 272.10 L1780.36 277.90 L1777.31 287.30 L1767.44 287.30 L1764.39 277.90 Z" fill="none" stroke="#008000" stroke-width="2.95" stroke-linejoin="miter"/>
<path d="M1830.23 268.30 L1838.22 274.10 L1835.17 283.50 L1825.29 283.50 L1822.24 274.10 Z" fill="none" stroke="#008000" stroke-width="2.95" stroke-linejoin="miter"/>
<path d="M1888.09 267.20 L1896.08 273.00 L1893.03 282.40 L1883.15 282.40 L1880.10 273.00 Z" fill="none" stroke="#008000" stroke-width="2.95" stroke-linejoin="miter"/>
<path d="M1945.95 265.60 L1953.94 271.40 L1950.89 280.80 L1941.01 280.80 L1937.96 271.40 Z" fill="none" stroke="#008000" stroke-width="2.95" stroke-linejoin="miter"/>
<path d="M1193.79 439.80 L1185.39 456.60 L1202.19 456.60 Z" fill="none" stroke="#0000ff" stroke-width="2.95" stroke-linejoin="miter"/>
<path d="M1251.65 434.20 L1243.25 451.00 L1260.05 451.00 Z" fill="none" stroke="#0000ff" stroke-width="2.95" stroke-linejoin="miter"/>
<path d="M1309.51 415.30 L1301.11 432.10 L1317.91 432.10 Z" fill="none" stroke="#0000ff" stroke-width="2.95" stroke-linejoin="miter"/>
<path d="M1367.37 383.10 L1358.97 399.90 L1375.77 399.90 Z" fill="none" stroke="#0000ff" stroke-width="2.95" stroke-linejoin="miter"/>
<path d="M1425.23 349.60 L1416.83 366.40 L1433.63 366.40 Z" fill="none" stroke="#0000ff" stroke-width="2.95" stroke-linejoin="miter"/>
<path d="M1483.08 320.20 L1474.68 337.00 L1491.48 337.00 Z" fill="none" stroke="#0000ff" stroke-width="2.95" stroke-linejoin="miter"/>
<path d="M1540.94 301.80 L1532.54 318.60 L1549.34 318.60 Z" fill="none" stroke="#0000ff" stroke-width="2.95" stroke-linejoin="miter"/>
<path d="M1598.80 285.20 L1590.40 302.00 L1607.20 302.00 Z" fill="none" stroke="#0000ff" stroke-width="2.95" stroke-linejoin="miter"/>
<path d="M1272.18 414.30 L1288.98 414.30 L1288.98 431.10 L1272.18 431.10 Z" fill="none" stroke="#0000ff" stroke-width="2.95" stroke-linejoin="miter"/>
<path d="M1330.04 395.60 L1346.84 395.60 L1346.84 412.40 L1330.04 412.40 Z" fill="none" stroke="#0000ff" stroke-width="2.95" stroke-linejoin="miter"/>
<path d="M1387.90 366.60 L1404.70 366.60 L1404.70 383.40 L1387.90 383.40 Z" fill="none" stroke="#0000ff" stroke-width="2.95" stroke-linejoin="miter"/>
<path d="M1445.76 336.60 L1462.56 336.60 L1462.56 353.40 L1445.76 353.40 Z" fill="none" stroke="#0000ff" stroke-width="2.95" stroke-linejoin="miter"/>
<path d="M1503.61 313.40 L1520.41 313.40 L1520.41 330.20 L1503.61 330.20 Z" fill="none" stroke="#0000ff" stroke-width="2.95" stroke-linejoin="miter"/>
<path d="M1561.47 298.00 L1578.27 298.00 L1578.27 314.80 L1561.47 314.80 Z" fill="none" stroke="#0000ff" stroke-width="2.95" stroke-linejoin="miter"/>
<path d="M1619.33 282.60 L1636.13 282.60 L1636.13 299.40 L1619.33 299.40 Z" fill="none" stroke="#0000ff" stroke-width="2.95" stroke-linejoin="miter"/>
<path d="M1677.19 276.30 L1693.99 276.30 L1693.99 293.10 L1677.19 293.10 Z" fill="none" stroke="#0000ff" stroke-width="2.95" stroke-linejoin="miter"/>
<circle cx="1367.37" cy="383.70" r="8.40" fill="none" stroke="#0000ff" stroke-width="2.95" stroke-linejoin="miter"/>
<circle cx="1425.23" cy="357.50" r="8.40" fill="none" stroke="#0000ff" stroke-width="2.95" stroke-linejoin="miter"/>
<circle cx="1483.08" cy="330.20" r="8.40" fill="none" stroke="#0000ff" stroke-width="2.95" stroke-linejoin="miter"/>
<circle cx="1540.94" cy="306.60" r="8.40" fill="none" stroke="#0000ff" stroke-width="2.95" stroke-linejoin="miter"/>
<circle cx="1598.80" cy="294.50" r="8.40" fill="none" stroke="#0000ff" stroke-width="2.95" stroke-linejoin="miter"/>
<circle cx="1656.66" cy="287.50" r="8.40" fill="none" stroke="#0000ff" stroke-width="2.95" stroke-linejoin="miter"/>
<circle cx="1714.52" cy="280.00" r="8.40" fill="none" stroke="#0000ff" stroke-width="2.95" stroke-linejoin="miter"/>
<circle cx="1772.37" cy="278.00" r="8.40" fill="none" stroke="#0000ff" stroke-width="2.95" stroke-linejoin="miter"/>
<path d="M1454.16 330.32 L1461.28 342.20 L1454.16 354.08 L1447.03 342.20 Z" fill="none" stroke="#0000ff" stroke-width="2.95" stroke-linejoin="miter"/>
<path d="M1512.01 301.72 L1519.14 313.60 L1512.01 325.48 L1504.89 313.60 Z" fill="none" stroke="#0000ff" stroke-width="2.95" stroke-linejoin="miter"/>
<path d="M1569.87 280.32 L1577.00 292.20 L1569.87 304.08 L1562.74 292.20 Z" fill="none" stroke="#0000ff" stroke-width="2.95" stroke-linejoin="miter"/>
<path d="M1627.73 270.32 L1634.86 282.20 L1627.73 294.08 L1620.60 282.20 Z" fill="none" stroke="#0000ff" stroke-width="2.95" stroke-linejoin="miter"/>
<path d="M1685.59 268.12 L1692.71 280.00 L1685.59 291.88 L1678.46 280.00 Z" fill="none" stroke="#0000ff" stroke-width="2.95" stroke-linejoin="miter"/>
<path d="M1743.44 265.02 L1750.57 276.90 L1743.44 288.78 L1736.32 276.90 Z" fill="none" stroke="#0000ff" stroke-width="2.95" stroke-linejoin="miter"/>
<path d="M1801.30 265.02 L1808.43 276.90 L1801.30 288.78 L1794.18 276.90 Z" fill="none" stroke="#0000ff" stroke-width="2.95" stroke-linejoin="miter"/>
<path d="M1859.16 262.62 L1866.29 274.50 L1859.16 286.38 L1852.03 274.50 Z" fill="none" stroke="#0000ff" stroke-width="2.95" stroke-linejoin="miter"/>
<polyline points="1540.94,293.40 1598.80,273.80 1656.66,265.20 1714.52,267.50 1772.37,271.80 1830.23,273.50 1888.09,272.70 1945.95,272.70" fill="none" stroke="#0000ff" stroke-width="4.0" stroke-dasharray="13.3 4.7" stroke-dashoffset="11.60" stroke-linejoin="round"/>
<path d="M1540.94 285.00 L1548.93 290.80 L1545.88 300.20 L1536.00 300.20 L1532.95 290.80 Z" fill="none" stroke="#0000ff" stroke-width="2.95" stroke-linejoin="miter"/>
<path d="M1598.80 265.40 L1606.79 271.20 L1603.74 280.60 L1593.86 280.60 L1590.81 271.20 Z" fill="none" stroke="#0000ff" stroke-width="2.95" stroke-linejoin="miter"/>
<path d="M1656.66 256.80 L1664.65 262.60 L1661.60 272.00 L1651.72 272.00 L1648.67 262.60 Z" fill="none" stroke="#0000ff" stroke-width="2.95" stroke-linejoin="miter"/>
<path d="M1714.52 259.10 L1722.50 264.90 L1719.45 274.30 L1709.58 274.30 L1706.53 264.90 Z" fill="none" stroke="#0000ff" stroke-width="2.95" stroke-linejoin="miter"/>
<path d="M1772.37 263.40 L1780.36 269.20 L1777.31 278.60 L1767.44 278.60 L1764.39 269.20 Z" fill="none" stroke="#0000ff" stroke-width="2.95" stroke-linejoin="miter"/>
<path d="M1830.23 265.10 L1838.22 270.90 L1835.17 280.30 L1825.29 280.30 L1822.24 270.90 Z" fill="none" stroke="#0000ff" stroke-width="2.95" stroke-linejoin="miter"/>
<path d="M1888.09 264.30 L1896.08 270.10 L1893.03 279.50 L1883.15 279.50 L1880.10 270.10 Z" fill="none" stroke="#0000ff" stroke-width="2.95" stroke-linejoin="miter"/>
<path d="M1945.95 264.30 L1953.94 270.10 L1950.89 279.50 L1941.01 279.50 L1937.96 270.10 Z" fill="none" stroke="#0000ff" stroke-width="2.95" stroke-linejoin="miter"/>
<path d="M1193.79 43.00 L1185.39 59.80 L1202.19 59.80 Z" fill="none" stroke="#ff0000" stroke-width="2.95" stroke-linejoin="miter"/>
<path d="M1251.65 55.50 L1243.25 72.30 L1260.05 72.30 Z" fill="none" stroke="#ff0000" stroke-width="2.95" stroke-linejoin="miter"/>
<path d="M1309.51 77.40 L1301.11 94.20 L1317.91 94.20 Z" fill="none" stroke="#ff0000" stroke-width="2.95" stroke-linejoin="miter"/>
<path d="M1367.37 276.90 L1358.97 293.70 L1375.77 293.70 Z" fill="none" stroke="#ff0000" stroke-width="2.95" stroke-linejoin="miter"/>
<path d="M1425.23 296.60 L1416.83 313.40 L1433.63 313.40 Z" fill="none" stroke="#ff0000" stroke-width="2.95" stroke-linejoin="miter"/>
<path d="M1483.08 289.80 L1474.68 306.60 L1491.48 306.60 Z" fill="none" stroke="#ff0000" stroke-width="2.95" stroke-linejoin="miter"/>
<path d="M1540.94 279.70 L1532.54 296.50 L1549.34 296.50 Z" fill="none" stroke="#ff0000" stroke-width="2.95" stroke-linejoin="miter"/>
<path d="M1598.80 272.80 L1590.40 289.60 L1607.20 289.60 Z" fill="none" stroke="#ff0000" stroke-width="2.95" stroke-linejoin="miter"/>
<path d="M1170.93 38.40 L1187.73 38.40 L1187.73 55.20 L1170.93 55.20 Z" fill="none" stroke="#ff0000" stroke-width="2.95" stroke-linejoin="miter"/>
<path d="M1228.79 38.40 L1245.59 38.40 L1245.59 55.20 L1228.79 55.20 Z" fill="none" stroke="#ff0000" stroke-width="2.95" stroke-linejoin="miter"/>
<path d="M1286.65 58.40 L1303.45 58.40 L1303.45 75.20 L1286.65 75.20 Z" fill="none" stroke="#ff0000" stroke-width="2.95" stroke-linejoin="miter"/>
<path d="M1344.50 223.70 L1361.30 223.70 L1361.30 240.50 L1344.50 240.50 Z" fill="none" stroke="#ff0000" stroke-width="2.95" stroke-linejoin="miter"/>
<path d="M1402.36 272.50 L1419.16 272.50 L1419.16 289.30 L1402.36 289.30 Z" fill="none" stroke="#ff0000" stroke-width="2.95" stroke-linejoin="miter"/>
<path d="M1460.22 273.50 L1477.02 273.50 L1477.02 290.30 L1460.22 290.30 Z" fill="none" stroke="#ff0000" stroke-width="2.95" stroke-linejoin="miter"/>
<path d="M1518.08 273.00 L1534.88 273.00 L1534.88 289.80 L1518.08 289.80 Z" fill="none" stroke="#ff0000" stroke-width="2.95" stroke-linejoin="miter"/>
<path d="M1575.94 272.10 L1592.74 272.10 L1592.74 288.90 L1575.94 288.90 Z" fill="none" stroke="#ff0000" stroke-width="2.95" stroke-linejoin="miter"/>
<polyline points="1164.87,42.30 1222.72,33.90 1280.58,50.80 1338.44,194.80 1396.30,257.60 1454.16,270.20 1512.01,274.10 1569.87,274.00" fill="none" stroke="#ff0000" stroke-width="4.0" stroke-dasharray="13.3 4.7" stroke-dashoffset="11.60" stroke-linejoin="round"/>
<circle cx="1164.87" cy="42.30" r="8.40" fill="none" stroke="#ff0000" stroke-width="2.95" stroke-linejoin="miter"/>
<circle cx="1222.72" cy="33.90" r="8.40" fill="none" stroke="#ff0000" stroke-width="2.95" stroke-linejoin="miter"/>
<circle cx="1280.58" cy="50.80" r="8.40" fill="none" stroke="#ff0000" stroke-width="2.95" stroke-linejoin="miter"/>
<circle cx="1338.44" cy="194.80" r="8.40" fill="none" stroke="#ff0000" stroke-width="2.95" stroke-linejoin="miter"/>
<circle cx="1396.30" cy="257.60" r="8.40" fill="none" stroke="#ff0000" stroke-width="2.95" stroke-linejoin="miter"/>
<circle cx="1454.16" cy="270.20" r="8.40" fill="none" stroke="#ff0000" stroke-width="2.95" stroke-linejoin="miter"/>
<circle cx="1512.01" cy="274.10" r="8.40" fill="none" stroke="#ff0000" stroke-width="2.95" stroke-linejoin="miter"/>
<circle cx="1569.87" cy="274.00" r="8.40" fill="none" stroke="#ff0000" stroke-width="2.95" stroke-linejoin="miter"/>
<path d="M1150.40 23.02 L1157.53 34.90 L1150.40 46.78 L1143.27 34.90 Z" fill="none" stroke="#ff0000" stroke-width="2.95" stroke-linejoin="miter"/>
<path d="M1208.26 26.02 L1215.39 37.90 L1208.26 49.78 L1201.13 37.90 Z" fill="none" stroke="#ff0000" stroke-width="2.95" stroke-linejoin="miter"/>
<path d="M1266.12 34.22 L1273.24 46.10 L1266.12 57.98 L1258.99 46.10 Z" fill="none" stroke="#ff0000" stroke-width="2.95" stroke-linejoin="miter"/>
<path d="M1323.97 169.32 L1331.10 181.20 L1323.97 193.08 L1316.85 181.20 Z" fill="none" stroke="#ff0000" stroke-width="2.95" stroke-linejoin="miter"/>
<path d="M1381.83 236.52 L1388.96 248.40 L1381.83 260.28 L1374.70 248.40 Z" fill="none" stroke="#ff0000" stroke-width="2.95" stroke-linejoin="miter"/>
<path d="M1439.69 254.92 L1446.82 266.80 L1439.69 278.68 L1432.56 266.80 Z" fill="none" stroke="#ff0000" stroke-width="2.95" stroke-linejoin="miter"/>
<path d="M1497.55 258.62 L1504.68 270.50 L1497.55 282.38 L1490.42 270.50 Z" fill="none" stroke="#ff0000" stroke-width="2.95" stroke-linejoin="miter"/>
<path d="M1555.41 259.92 L1562.53 271.80 L1555.41 283.68 L1548.28 271.80 Z" fill="none" stroke="#ff0000" stroke-width="2.95" stroke-linejoin="miter"/>
<path d="M1135.94 23.50 L1143.93 29.30 L1140.87 38.70 L1131.00 38.70 L1127.95 29.30 Z" fill="none" stroke="#ff0000" stroke-width="2.95" stroke-linejoin="miter"/>
<path d="M1193.79 33.70 L1201.78 39.50 L1198.73 48.90 L1188.86 48.90 L1185.81 39.50 Z" fill="none" stroke="#ff0000" stroke-width="2.95" stroke-linejoin="miter"/>
<path d="M1251.65 49.60 L1259.64 55.40 L1256.59 64.80 L1246.71 64.80 L1243.66 55.40 Z" fill="none" stroke="#ff0000" stroke-width="2.95" stroke-linejoin="miter"/>
<path d="M1309.51 203.80 L1317.50 209.60 L1314.45 219.00 L1304.57 219.00 L1301.52 209.60 Z" fill="none" stroke="#ff0000" stroke-width="2.95" stroke-linejoin="miter"/>
<path d="M1367.37 246.60 L1375.36 252.40 L1372.31 261.80 L1362.43 261.80 L1359.38 252.40 Z" fill="none" stroke="#ff0000" stroke-width="2.95" stroke-linejoin="miter"/>
<path d="M1425.23 258.40 L1433.21 264.20 L1430.16 273.60 L1420.29 273.60 L1417.24 264.20 Z" fill="none" stroke="#ff0000" stroke-width="2.95" stroke-linejoin="miter"/>
<path d="M1483.08 261.70 L1491.07 267.50 L1488.02 276.90 L1478.15 276.90 L1475.10 267.50 Z" fill="none" stroke="#ff0000" stroke-width="2.95" stroke-linejoin="miter"/>
<path d="M1540.94 263.90 L1548.93 269.70 L1545.88 279.10 L1536.00 279.10 L1532.95 269.70 Z" fill="none" stroke="#ff0000" stroke-width="2.95" stroke-linejoin="miter"/>
<path d="M1113.90 623.90v-11.80M1113.90 3.40v11.80M1137.92 623.90v-11.80M1137.92 3.40v11.80M1156.54 623.90v-11.80M1156.54 3.40v11.80M1171.76 623.90v-11.80M1171.76 3.40v11.80M1184.63 623.90v-11.80M1184.63 3.40v11.80M1195.77 623.90v-11.80M1195.77 3.40v11.80M1205.61 623.90v-11.80M1205.61 3.40v11.80M1214.40 623.90v-23.60M1214.40 3.40v23.60M1272.26 623.90v-11.80M1272.26 3.40v11.80M1306.10 623.90v-11.80M1306.10 3.40v11.80M1330.12 623.90v-11.80M1330.12 3.40v11.80M1348.74 623.90v-11.80M1348.74 3.40v11.80M1363.96 623.90v-11.80M1363.96 3.40v11.80M1376.83 623.90v-11.80M1376.83 3.40v11.80M1387.97 623.90v-11.80M1387.97 3.40v11.80M1397.81 623.90v-11.80M1397.81 3.40v11.80M1406.60 623.90v-23.60M1406.60 3.40v23.60M1464.46 623.90v-11.80M1464.46 3.40v11.80M1498.30 623.90v-11.80M1498.30 3.40v11.80M1522.32 623.90v-11.80M1522.32 3.40v11.80M1540.94 623.90v-11.80M1540.94 3.40v11.80M1556.16 623.90v-11.80M1556.16 3.40v11.80M1569.03 623.90v-11.80M1569.03 3.40v11.80M1580.17 623.90v-11.80M1580.17 3.40v11.80M1590.01 623.90v-11.80M1590.01 3.40v11.80M1598.80 623.90v-23.60M1598.80 3.40v23.60M1656.66 623.90v-11.80M1656.66 3.40v11.80M1690.50 623.90v-11.80M1690.50 3.40v11.80M1714.52 623.90v-11.80M1714.52 3.40v11.80M1733.14 623.90v-11.80M1733.14 3.40v11.80M1748.36 623.90v-11.80M1748.36 3.40v11.80M1761.23 623.90v-11.80M1761.23 3.40v11.80M1772.37 623.90v-11.80M1772.37 3.40v11.80M1782.21 623.90v-11.80M1782.21 3.40v11.80M1791.00 623.90v-23.60M1791.00 3.40v23.60M1848.86 623.90v-11.80M1848.86 3.40v11.80M1882.70 623.90v-11.80M1882.70 3.40v11.80M1906.72 623.90v-11.80M1906.72 3.40v11.80M1925.34 623.90v-11.80M1925.34 3.40v11.80M1940.56 623.90v-11.80M1940.56 3.40v11.80M1953.43 623.90v-11.80M1953.43 3.40v11.80M1964.57 623.90v-11.80M1964.57 3.40v11.80M1974.41 623.90v-11.80M1974.41 3.40v11.80M1983.20 623.90v-23.60M1983.20 3.40v23.60M1095.25 617.97h11.80M1986.40 617.97h-11.80M1095.25 602.43h23.60M1986.40 602.43h-23.60M1095.25 586.89h11.80M1986.40 586.89h-11.80M1095.25 571.34h11.80M1986.40 571.34h-11.80M1095.25 555.80h11.80M1986.40 555.80h-11.80M1095.25 540.25h11.80M1986.40 540.25h-11.80M1095.25 524.71h23.60M1986.40 524.71h-23.60M1095.25 509.17h11.80M1986.40 509.17h-11.80M1095.25 493.62h11.80M1986.40 493.62h-11.80M1095.25 478.08h11.80M1986.40 478.08h-11.80M1095.25 462.53h11.80M1986.40 462.53h-11.80M1095.25 446.99h23.60M1986.40 446.99h-23.60M1095.25 431.45h11.80M1986.40 431.45h-11.80M1095.25 415.90h11.80M1986.40 415.90h-11.80M1095.25 400.36h11.80M1986.40 400.36h-11.80M1095.25 384.81h11.80M1986.40 384.81h-11.80M1095.25 369.27h23.60M1986.40 369.27h-23.60M1095.25 353.73h11.80M1986.40 353.73h-11.80M1095.25 338.18h11.80M1986.40 338.18h-11.80M1095.25 322.64h11.80M1986.40 322.64h-11.80M1095.25 307.09h11.80M1986.40 307.09h-11.80M1095.25 291.55h23.60M1986.40 291.55h-23.60M1095.25 276.01h11.80M1986.40 276.01h-11.80M1095.25 260.46h11.80M1986.40 260.46h-11.80M1095.25 244.92h11.80M1986.40 244.92h-11.80M1095.25 229.37h11.80M1986.40 229.37h-11.80M1095.25 213.83h23.60M1986.40 213.83h-23.60M1095.25 198.29h11.80M1986.40 198.29h-11.80M1095.25 182.74h11.80M1986.40 182.74h-11.80M1095.25 167.20h11.80M1986.40 167.20h-11.80M1095.25 151.65h11.80M1986.40 151.65h-11.80M1095.25 136.11h23.60M1986.40 136.11h-23.60M1095.25 120.57h11.80M1986.40 120.57h-11.80M1095.25 105.02h11.80M1986.40 105.02h-11.80M1095.25 89.48h11.80M1986.40 89.48h-11.80M1095.25 73.93h11.80M1986.40 73.93h-11.80M1095.25 58.39h23.60M1986.40 58.39h-23.60M1095.25 42.85h11.80M1986.40 42.85h-11.80M1095.25 27.30h11.80M1986.40 27.30h-11.80M1095.25 11.76h11.80M1986.40 11.76h-11.80" stroke="#000" stroke-width="2.8" fill="none"/>
<rect x="1095.25" y="3.40" width="891.15" height="620.50" fill="none" stroke="#000" stroke-width="3.45" stroke-linejoin="miter"/>
<text x="1041.35" y="615.33" fill="#000" stroke="#000" stroke-width="0"><tspan font-family='"Liberation Serif", "DejaVu Serif", serif' font-size="38.0" stroke-width="0.45">0</tspan><tspan font-family='"Liberation Serif", "DejaVu Serif", serif' font-size="38.0" stroke-width="0.45">.</tspan><tspan dx="2.31" font-family='"Liberation Serif", "DejaVu Serif", serif' font-size="38.0" stroke-width="0.45" textLength="14.63" lengthAdjust="spacingAndGlyphs">1</tspan></text>
<text x="1041.35" y="537.61" fill="#000" stroke="#000" stroke-width="0"><tspan font-family='"Liberation Serif", "DejaVu Serif", serif' font-size="38.0" stroke-width="0.45">0</tspan><tspan font-family='"Liberation Serif", "DejaVu Serif", serif' font-size="38.0" stroke-width="0.45">.</tspan><tspan font-family='"Liberation Serif", "DejaVu Serif", serif' font-size="38.0" stroke-width="0.45">2</tspan></text>
<text x="1041.35" y="459.89" fill="#000" stroke="#000" stroke-width="0"><tspan font-family='"Liberation Serif", "DejaVu Serif", serif' font-size="38.0" stroke-width="0.45">0</tspan><tspan font-family='"Liberation Serif", "DejaVu Serif", serif' font-size="38.0" stroke-width="0.45">.</tspan><tspan font-family='"Liberation Serif", "DejaVu Serif", serif' font-size="38.0" stroke-width="0.45">3</tspan></text>
<text x="1041.35" y="382.17" fill="#000" stroke="#000" stroke-width="0"><tspan font-family='"Liberation Serif", "DejaVu Serif", serif' font-size="38.0" stroke-width="0.45">0</tspan><tspan font-family='"Liberation Serif", "DejaVu Serif", serif' font-size="38.0" stroke-width="0.45">.</tspan><tspan font-family='"Liberation Serif", "DejaVu Serif", serif' font-size="38.0" stroke-width="0.45">4</tspan></text>
<text x="1041.35" y="304.45" fill="#000" stroke="#000" stroke-width="0"><tspan font-family='"Liberation Serif", "DejaVu Serif", serif' font-size="38.0" stroke-width="0.45">0</tspan><tspan font-family='"Liberation Serif", "DejaVu Serif", serif' font-size="38.0" stroke-width="0.45">.</tspan><tspan font-family='"Liberation Serif", "DejaVu Serif", serif' font-size="38.0" stroke-width="0.45">5</tspan></text>
<text x="1041.35" y="226.73" fill="#000" stroke="#000" stroke-width="0"><tspan font-family='"Liberation Serif", "DejaVu Serif", serif' font-size="38.0" stroke-width="0.45">0</tspan><tspan font-family='"Liberation Serif", "DejaVu Serif", serif' font-size="38.0" stroke-width="0.45">.</tspan><tspan font-family='"Liberation Serif", "DejaVu Serif", serif' font-size="38.0" stroke-width="0.45">6</tspan></text>
<text x="1041.35" y="149.01" fill="#000" stroke="#000" stroke-width="0"><tspan font-family='"Liberation Serif", "DejaVu Serif", serif' font-size="38.0" stroke-width="0.45">0</tspan><tspan font-family='"Liberation Serif", "DejaVu Serif", serif' font-size="38.0" stroke-width="0.45">.</tspan><tspan font-family='"Liberation Serif", "DejaVu Serif", serif' font-size="38.0" stroke-width="0.45">7</tspan></text>
<text x="1041.35" y="71.29" fill="#000" stroke="#000" stroke-width="0"><tspan font-family='"Liberation Serif", "DejaVu Serif", serif' font-size="38.0" stroke-width="0.45">0</tspan><tspan font-family='"Liberation Serif", "DejaVu Serif", serif' font-size="38.0" stroke-width="0.45">.</tspan><tspan font-family='"Liberation Serif", "DejaVu Serif", serif' font-size="38.0" stroke-width="0.45">8</tspan></text>
<text x="1180.86" y="665.00" fill="#000" stroke="#000" stroke-width="0"><tspan font-family='"Liberation Serif", "DejaVu Serif", serif' font-size="38.0" stroke-width="0.45" textLength="14.63" lengthAdjust="spacingAndGlyphs">1</tspan><tspan dx="2.06" font-family='"Liberation Serif", "DejaVu Serif", serif' font-size="38.0" stroke-width="0.45">0</tspan><tspan dx="-0.14" dy="-11.27" font-family='"Liberation Serif", "DejaVu Serif", serif' font-size="26.6" stroke-width="0.35" textLength="18.15" lengthAdjust="spacingAndGlyphs">−</tspan><tspan dx="-0.56" dy="-1.83" font-family='"Liberation Serif", "DejaVu Serif", serif' font-size="26.6" stroke-width="0.45">2</tspan></text>
<text x="1373.06" y="665.00" fill="#000" stroke="#000" stroke-width="0"><tspan font-family='"Liberation Serif", "DejaVu Serif", serif' font-size="38.0" stroke-width="0.45" textLength="14.63" lengthAdjust="spacingAndGlyphs">1</tspan><tspan dx="2.06" font-family='"Liberation Serif", "DejaVu Serif", serif' font-size="38.0" stroke-width="0.45">0</tspan><tspan dx="-0.14" dy="-11.27" font-family='"Liberation Serif", "DejaVu Serif", serif' font-size="26.6" stroke-width="0.35" textLength="18.15" lengthAdjust="spacingAndGlyphs">−</tspan><tspan dx="1.05" dy="-1.83" font-family='"Liberation Serif", "DejaVu Serif", serif' font-size="26.6" stroke-width="0.45" textLength="10.24" lengthAdjust="spacingAndGlyphs">1</tspan></text>
<text x="1573.41" y="665.00" fill="#000" stroke="#000" stroke-width="0"><tspan font-family='"Liberation Serif", "DejaVu Serif", serif' font-size="38.0" stroke-width="0.45" textLength="14.63" lengthAdjust="spacingAndGlyphs">1</tspan><tspan dx="2.06" font-family='"Liberation Serif", "DejaVu Serif", serif' font-size="38.0" stroke-width="0.45">0</tspan><tspan dx="0.10" dy="-13.10" font-family='"Liberation Serif", "DejaVu Serif", serif' font-size="26.6" stroke-width="0.45">0</tspan></text>
<text x="1765.61" y="665.00" fill="#000" stroke="#000" stroke-width="0"><tspan font-family='"Liberation Serif", "DejaVu Serif", serif' font-size="38.0" stroke-width="0.45" textLength="14.63" lengthAdjust="spacingAndGlyphs">1</tspan><tspan dx="2.06" font-family='"Liberation Serif", "DejaVu Serif", serif' font-size="38.0" stroke-width="0.45">0</tspan><tspan dx="1.71" dy="-13.10" font-family='"Liberation Serif", "DejaVu Serif", serif' font-size="26.6" stroke-width="0.45" textLength="10.24" lengthAdjust="spacingAndGlyphs">1</tspan></text>
<text x="1957.81" y="665.00" fill="#000" stroke="#000" stroke-width="0"><tspan font-family='"Liberation Serif", "DejaVu Serif", serif' font-size="38.0" stroke-width="0.45" textLength="14.63" lengthAdjust="spacingAndGlyphs">1</tspan><tspan dx="2.06" font-family='"Liberation Serif", "DejaVu Serif", serif' font-size="38.0" stroke-width="0.45">0</tspan><tspan dx="0.10" dy="-13.10" font-family='"Liberation Serif", "DejaVu Serif", serif' font-size="26.6" stroke-width="0.45">2</tspan></text>
<path d="M820.90 32.80 L812.70 49.20 L829.10 49.20 Z" fill="none" stroke="#000" stroke-width="2.8" stroke-linejoin="miter"/>
<text x="874.11" y="51.33" fill="#000" stroke="#000" stroke-width="0"><tspan font-family='"Liberation Serif", "DejaVu Serif", serif' font-size="30.4" stroke-width="0.45" textLength="31.31" lengthAdjust="spacingAndGlyphs">Pe</tspan><tspan dx="-1.30" dy="1.99" font-family='"Liberation Serif", "DejaVu Serif", serif' font-size="30.4" stroke-width="0.4" textLength="21.97" lengthAdjust="spacingAndGlyphs">=</tspan><tspan dx="1.12" dy="-1.99" font-family='"Liberation Serif", "DejaVu Serif", serif' font-size="30.4" stroke-width="0.45" textLength="12.16" lengthAdjust="spacingAndGlyphs">1</tspan></text>
<path d="M812.70 63.52 L829.10 63.52 L829.10 79.92 L812.70 79.92 Z" fill="none" stroke="#000" stroke-width="2.8" stroke-linejoin="miter"/>
<text x="874.11" y="82.05" fill="#000" stroke="#000" stroke-width="0"><tspan font-family='"Liberation Serif", "DejaVu Serif", serif' font-size="30.4" stroke-width="0.45" textLength="31.31" lengthAdjust="spacingAndGlyphs">Pe</tspan><tspan dx="-1.30" dy="1.99" font-family='"Liberation Serif", "DejaVu Serif", serif' font-size="30.4" stroke-width="0.4" textLength="21.97" lengthAdjust="spacingAndGlyphs">=</tspan><tspan dx="-0.49" dy="-1.99" font-family='"Liberation Serif", "DejaVu Serif", serif' font-size="30.4" stroke-width="0.45">2</tspan></text>
<circle cx="820.90" cy="102.44" r="8.20" fill="none" stroke="#000" stroke-width="2.8" stroke-linejoin="miter"/>
<text x="874.11" y="112.77" fill="#000" stroke="#000" stroke-width="0"><tspan font-family='"Liberation Serif", "DejaVu Serif", serif' font-size="30.4" stroke-width="0.45" textLength="31.31" lengthAdjust="spacingAndGlyphs">Pe</tspan><tspan dx="-1.30" dy="1.99" font-family='"Liberation Serif", "DejaVu Serif", serif' font-size="30.4" stroke-width="0.4" textLength="21.97" lengthAdjust="spacingAndGlyphs">=</tspan><tspan dx="-0.49" dy="-1.99" font-family='"Liberation Serif", "DejaVu Serif", serif' font-size="30.4" stroke-width="0.45">4</tspan></text>
<path d="M820.90 121.56 L827.86 133.16 L820.90 144.76 L813.94 133.16 Z" fill="none" stroke="#000" stroke-width="2.8" stroke-linejoin="miter"/>
<text x="874.11" y="143.49" fill="#000" stroke="#000" stroke-width="0"><tspan font-family='"Liberation Serif", "DejaVu Serif", serif' font-size="30.4" stroke-width="0.45" textLength="31.31" lengthAdjust="spacingAndGlyphs">Pe</tspan><tspan dx="-1.30" dy="1.99" font-family='"Liberation Serif", "DejaVu Serif", serif' font-size="30.4" stroke-width="0.4" textLength="21.97" lengthAdjust="spacingAndGlyphs">=</tspan><tspan dx="-0.49" dy="-1.99" font-family='"Liberation Serif", "DejaVu Serif", serif' font-size="30.4" stroke-width="0.45">8</tspan></text>
<path d="M820.90 155.68 L828.70 161.35 L825.72 170.51 L816.08 170.51 L813.10 161.35 Z" fill="none" stroke="#000" stroke-width="2.8" stroke-linejoin="miter"/>
<text x="874.11" y="174.21" fill="#000" stroke="#000" stroke-width="0"><tspan font-family='"Liberation Serif", "DejaVu Serif", serif' font-size="30.4" stroke-width="0.45" textLength="31.31" lengthAdjust="spacingAndGlyphs">Pe</tspan><tspan dx="-1.30" dy="1.99" font-family='"Liberation Serif", "DejaVu Serif", serif' font-size="30.4" stroke-width="0.4" textLength="21.97" lengthAdjust="spacingAndGlyphs">=</tspan><tspan dx="1.12" dy="-1.99" font-family='"Liberation Serif", "DejaVu Serif", serif' font-size="30.4" stroke-width="0.45" textLength="12.16" lengthAdjust="spacingAndGlyphs">1</tspan><tspan dx="1.44" font-family='"Liberation Serif", "DejaVu Serif", serif' font-size="30.4" stroke-width="0.45">6</tspan></text>
<line x1="829.7" y1="278.90" x2="893.3" y2="278.90" stroke="#008000" stroke-width="3.7"/>
<text x="916.3" y="289.20" fill="#000"><tspan font-family='"Liberation Serif", "DejaVu Serif", serif' font-style="italic" font-size="28.2" stroke="#000" stroke-width="0.6">π</tspan></text>
<line x1="829.7" y1="309.47" x2="893.3" y2="309.47" stroke="#0000ff" stroke-width="3.7"/>
<text x="916.3" y="319.77" fill="#000"><tspan font-family='"Liberation Serif", "DejaVu Serif", serif' font-style="italic" font-size="28.2" stroke="#000" stroke-width="0.6">π</tspan><tspan font-family='"Liberation Sans", "DejaVu Sans", sans-serif' font-size="27.2" dx="0.4" dy="-1.0">/2</tspan></text>
<line x1="829.7" y1="340.04" x2="893.3" y2="340.04" stroke="#ff0000" stroke-width="3.7"/>
<text x="916.3" y="350.34" fill="#000"><tspan font-family='"Liberation Serif", "DejaVu Serif", serif' font-style="italic" font-size="28.2" stroke="#000" stroke-width="0.6">π</tspan><tspan font-family='"Liberation Sans", "DejaVu Sans", sans-serif' font-size="27.2" dx="0.4" dy="-1.0">/4</tspan></text>
<path d="M1824.50 32.90 L1816.30 49.30 L1832.70 49.30 Z" fill="none" stroke="#000" stroke-width="2.8" stroke-linejoin="miter"/>
<text x="1877.81" y="51.43" fill="#000" stroke="#000" stroke-width="0"><tspan font-family='"Liberation Serif", "DejaVu Serif", serif' font-size="30.4" stroke-width="0.45" textLength="31.31" lengthAdjust="spacingAndGlyphs">Pe</tspan><tspan dx="-1.30" dy="1.99" font-family='"Liberation Serif", "DejaVu Serif", serif' font-size="30.4" stroke-width="0.4" textLength="21.97" lengthAdjust="spacingAndGlyphs">=</tspan><tspan dx="1.12" dy="-1.99" font-family='"Liberation Serif", "DejaVu Serif", serif' font-size="30.4" stroke-width="0.45" textLength="12.16" lengthAdjust="spacingAndGlyphs">1</tspan></text>
<path d="M1816.30 63.62 L1832.70 63.62 L1832.70 80.02 L1816.30 80.02 Z" fill="none" stroke="#000" stroke-width="2.8" stroke-linejoin="miter"/>
<text x="1877.81" y="82.15" fill="#000" stroke="#000" stroke-width="0"><tspan font-family='"Liberation Serif", "DejaVu Serif", serif' font-size="30.4" stroke-width="0.45" textLength="31.31" lengthAdjust="spacingAndGlyphs">Pe</tspan><tspan dx="-1.30" dy="1.99" font-family='"Liberation Serif", "DejaVu Serif", serif' font-size="30.4" stroke-width="0.4" textLength="21.97" lengthAdjust="spacingAndGlyphs">=</tspan><tspan dx="-0.49" dy="-1.99" font-family='"Liberation Serif", "DejaVu Serif", serif' font-size="30.4" stroke-width="0.45">2</tspan></text>
<circle cx="1824.50" cy="102.54" r="8.20" fill="none" stroke="#000" stroke-width="2.8" stroke-linejoin="miter"/>
<text x="1877.81" y="112.87" fill="#000" stroke="#000" stroke-width="0"><tspan font-family='"Liberation Serif", "DejaVu Serif", serif' font-size="30.4" stroke-width="0.45" textLength="31.31" lengthAdjust="spacingAndGlyphs">Pe</tspan><tspan dx="-1.30" dy="1.99" font-family='"Liberation Serif", "DejaVu Serif", serif' font-size="30.4" stroke-width="0.4" textLength="21.97" lengthAdjust="spacingAndGlyphs">=</tspan><tspan dx="-0.49" dy="-1.99" font-family='"Liberation Serif", "DejaVu Serif", serif' font-size="30.4" stroke-width="0.45">4</tspan></text>
<path d="M1824.50 121.66 L1831.46 133.26 L1824.50 144.86 L1817.54 133.26 Z" fill="none" stroke="#000" stroke-width="2.8" stroke-linejoin="miter"/>
<text x="1877.81" y="143.59" fill="#000" stroke="#000" stroke-width="0"><tspan font-family='"Liberation Serif", "DejaVu Serif", serif' font-size="30.4" stroke-width="0.45" textLength="31.31" lengthAdjust="spacingAndGlyphs">Pe</tspan><tspan dx="-1.30" dy="1.99" font-family='"Liberation Serif", "DejaVu Serif", serif' font-size="30.4" stroke-width="0.4" textLength="21.97" lengthAdjust="spacingAndGlyphs">=</tspan><tspan dx="-0.49" dy="-1.99" font-family='"Liberation Serif", "DejaVu Serif", serif' font-size="30.4" stroke-width="0.45">8</tspan></text>
<path d="M1824.50 155.78 L1832.30 161.45 L1829.32 170.61 L1819.68 170.61 L1816.70 161.45 Z" fill="none" stroke="#000" stroke-width="2.8" stroke-linejoin="miter"/>
<text x="1877.81" y="174.31" fill="#000" stroke="#000" stroke-width="0"><tspan font-family='"Liberation Serif", "DejaVu Serif", serif' font-size="30.4" stroke-width="0.45" textLength="31.31" lengthAdjust="spacingAndGlyphs">Pe</tspan><tspan dx="-1.30" dy="1.99" font-family='"Liberation Serif", "DejaVu Serif", serif' font-size="30.4" stroke-width="0.4" textLength="21.97" lengthAdjust="spacingAndGlyphs">=</tspan><tspan dx="1.12" dy="-1.99" font-family='"Liberation Serif", "DejaVu Serif", serif' font-size="30.4" stroke-width="0.45" textLength="12.16" lengthAdjust="spacingAndGlyphs">1</tspan><tspan dx="1.44" font-family='"Liberation Serif", "DejaVu Serif", serif' font-size="30.4" stroke-width="0.45">6</tspan></text>
<line x1="1832.9" y1="517.90" x2="1896.8" y2="517.90" stroke="#008000" stroke-width="3.7"/>
<text x="1920.4" y="527.70" fill="#000"><tspan font-family='"Liberation Serif", "DejaVu Serif", serif' font-style="italic" font-size="28.2" stroke="#000" stroke-width="0.6">π</tspan></text>
<line x1="1832.9" y1="548.55" x2="1896.8" y2="548.55" stroke="#0000ff" stroke-width="3.7"/>
<text x="1920.4" y="558.35" fill="#000"><tspan font-family='"Liberation Serif", "DejaVu Serif", serif' font-style="italic" font-size="28.2" stroke="#000" stroke-width="0.6">π</tspan><tspan font-family='"Liberation Sans", "DejaVu Sans", sans-serif' font-size="27.2" dx="0.4" dy="-0.5">/2</tspan></text>
<line x1="1832.9" y1="579.20" x2="1896.8" y2="579.20" stroke="#ff0000" stroke-width="3.7"/>
<text x="1920.4" y="589.00" fill="#000"><tspan font-family='"Liberation Serif", "DejaVu Serif", serif' font-style="italic" font-size="28.2" stroke="#000" stroke-width="0.6">π</tspan><tspan font-family='"Liberation Sans", "DejaVu Sans", sans-serif' font-size="27.2" dx="0.4" dy="-0.5">/4</tspan></text>
<text x="211.00" y="194.55" fill="#0000ff" stroke="#0000ff" stroke-width="0"><tspan dy="-1.10" font-family='"Liberation Serif", "DejaVu Serif", serif' font-size="32.8" font-style="italic" stroke-width="0.3" textLength="18.14" lengthAdjust="spacingAndGlyphs">β</tspan><tspan dx="4.14" dy="4.62" font-family='"Liberation Serif", "DejaVu Serif", serif' font-size="35" stroke-width="0.5" textLength="22.99" lengthAdjust="spacingAndGlyphs">=</tspan><tspan dx="6.47" dy="-3.52" font-family='"Liberation Serif", "DejaVu Serif", serif' font-size="35" font-style="italic" stroke-width="0.3" textLength="41.14" lengthAdjust="spacingAndGlyphs">3/2</tspan></text>
<text x="360.50" y="389.30" fill="#ff0000" stroke="#ff0000" stroke-width="0"><tspan dy="-1.10" font-family='"Liberation Serif", "DejaVu Serif", serif' font-size="32.8" font-style="italic" stroke-width="0.3" textLength="18.14" lengthAdjust="spacingAndGlyphs">β</tspan><tspan dx="4.14" dy="4.62" font-family='"Liberation Serif", "DejaVu Serif", serif' font-size="35" stroke-width="0.5" textLength="22.99" lengthAdjust="spacingAndGlyphs">=</tspan><tspan dx="9.75" dy="-0.90" font-family='"Liberation Serif", "DejaVu Serif", serif' font-size="35" stroke-width="0.5" textLength="22.51" lengthAdjust="spacingAndGlyphs">−</tspan><tspan dx="5.50" dy="-2.62" font-family='"Liberation Serif", "DejaVu Serif", serif' font-size="35" stroke-width="0.3" textLength="41.87" lengthAdjust="spacingAndGlyphs">1/4</tspan></text>
<text x="1330.00" y="151.20" fill="#ff0000" stroke="#ff0000" stroke-width="0"><tspan dy="-1.10" font-family='"Liberation Serif", "DejaVu Serif", serif' font-size="32.8" font-style="italic" stroke-width="0.3" textLength="18.14" lengthAdjust="spacingAndGlyphs">β</tspan><tspan dx="4.14" dy="4.62" font-family='"Liberation Serif", "DejaVu Serif", serif' font-size="35" stroke-width="0.5" textLength="22.99" lengthAdjust="spacingAndGlyphs">=</tspan><tspan dx="9.75" dy="-0.90" font-family='"Liberation Serif", "DejaVu Serif", serif' font-size="35" stroke-width="0.5" textLength="22.51" lengthAdjust="spacingAndGlyphs">−</tspan><tspan dx="5.50" dy="-2.62" font-family='"Liberation Serif", "DejaVu Serif", serif' font-size="35" stroke-width="0.3" textLength="41.87" lengthAdjust="spacingAndGlyphs">1/4</tspan></text>
<text x="1348.00" y="524.55" fill="#0000ff" stroke="#0000ff" stroke-width="0"><tspan dy="-1.10" font-family='"Liberation Serif", "DejaVu Serif", serif' font-size="32.8" font-style="italic" stroke-width="0.3" textLength="18.14" lengthAdjust="spacingAndGlyphs">β</tspan><tspan dx="4.14" dy="4.62" font-family='"Liberation Serif", "DejaVu Serif", serif' font-size="35" stroke-width="0.5" textLength="22.99" lengthAdjust="spacingAndGlyphs">=</tspan><tspan dx="6.47" dy="-3.52" font-family='"Liberation Serif", "DejaVu Serif", serif' font-size="35" font-style="italic" stroke-width="0.3" textLength="41.14" lengthAdjust="spacingAndGlyphs">3/2</tspan></text>
<text x="851.8" y="543.4" font-family='"Liberation Sans", "DejaVu Sans", sans-serif' font-size="46" fill="#000" stroke="#000" stroke-width="0.6">(a)</text>
<text x="1760.6" y="544.2" font-family='"Liberation Sans", "DejaVu Sans", sans-serif' font-size="46" fill="#000" stroke="#000" stroke-width="0.6">(b)</text>
<text x="538.2" y="701.4" font-family='"Liberation Serif", "DejaVu Serif", serif' font-size="34.4" font-style="italic" text-anchor="middle" fill="#000" stroke="#000" stroke-width="0.45">Pe<tspan dy="-10.8" dx="0.8" font-size="23">β</tspan><tspan dy="10.8" dx="1.2" font-style="normal">/Ω</tspan></text>
<text x="1541.2" y="703.2" font-family='"Liberation Serif", "DejaVu Serif", serif' font-size="34.4" font-style="italic" text-anchor="middle" fill="#000" stroke="#000" stroke-width="0.45">Pe<tspan dy="-10.8" dx="0.8" font-size="23">β</tspan><tspan dy="10.8" dx="1.2" font-style="normal">/Ω</tspan></text>
<text transform="translate(23.9,313.0) rotate(-90)" font-family='"Liberation Serif", "DejaVu Serif", serif' font-size="34.3" text-anchor="middle" fill="#000" stroke="#000" stroke-width="0.45"><tspan font-size="38">⟨</tspan><tspan font-style="italic" dx="1.5">d</tspan><tspan dy="3.8" dx="0.3" font-size="21.5">1</tspan><tspan dy="-3.8" dx="0.5" font-size="38">⟩</tspan><tspan dx="-1.5" font-size="36">/</tspan><tspan font-style="italic" dx="0.3">d</tspan><tspan dy="3.8" dx="0.3" font-size="21.5">0</tspan></text>
<text transform="translate(1028.4,312.0) rotate(-90)" font-family='"Liberation Serif", "DejaVu Serif", serif' font-size="33.3" text-anchor="middle" fill="#000" stroke="#000" stroke-width="0.45"><tspan font-style="italic">F</tspan>(<tspan font-style="italic">d</tspan><tspan dy="4.3" font-size="23.3">1</tspan><tspan dy="-4.3"> &lt; </tspan><tspan font-style="italic">R</tspan><tspan dy="4.3" font-size="23.3">0</tspan><tspan dy="-4.3">)</tspan></text>
<rect x="1522.9" y="0" width="4.3" height="1" fill="#6a6a6a"/><rect x="1548.8" y="0" width="3.5" height="1" fill="#5a5a5a"/>
</svg>
</body></html>
